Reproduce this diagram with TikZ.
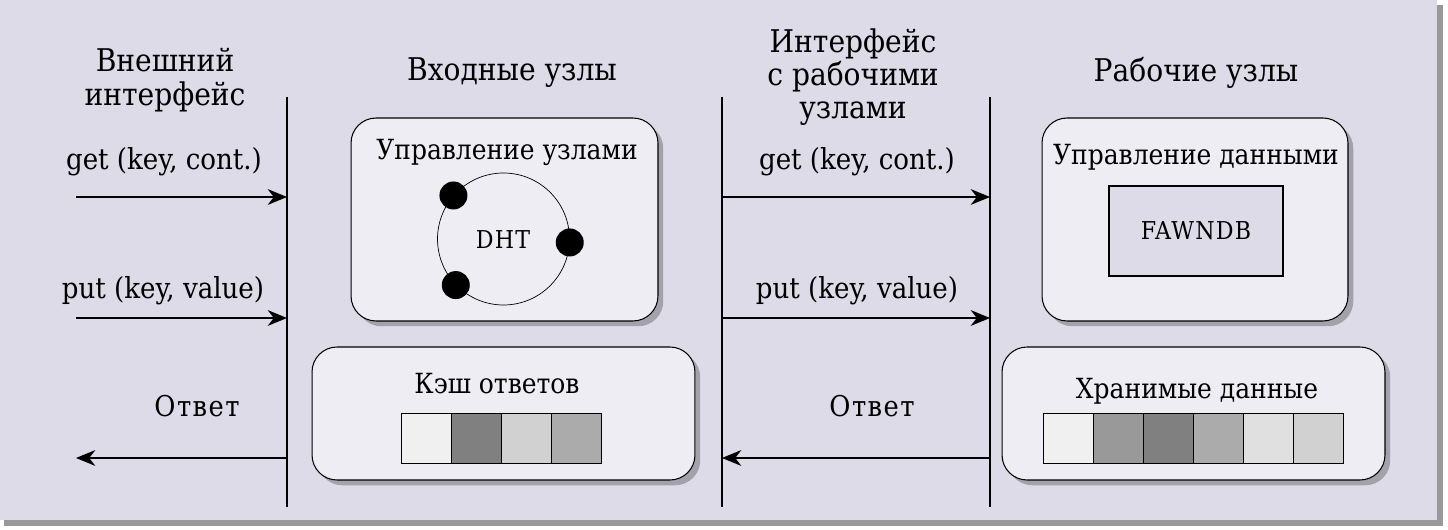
\documentclass[tikz,border=0pt]{standalone}
\usepackage{fontspec}
\setmainfont{DejaVu Serif Condensed}
\newfontfamily\slabmono{DejaVu Serif Condensed}[LetterSpace=5]
\usetikzlibrary{arrows.meta,shadows}
\definecolor{bgback}{HTML}{DDDBE8}
\definecolor{boxfill}{HTML}{EEEDF4}
\tikzset{
    >={Stealth[length=11pt,width=9pt,inset=3.5pt]},
    lifeline/.style={draw, line width=0.8pt},
    msg/.style={draw, line width=0.8pt, ->},
    head/.style={align=center, font={\fontsize{17.8pt}{19pt}\selectfont}},
    msgtext/.style={font={\fontsize{16.5pt}{18pt}\selectfont}},
    titletext/.style={font={\fontsize{15.8pt}{18pt}\selectfont}},
    monotext/.style={font={\slabmono\fontsize{16.3pt}{18pt}\selectfont}},
    systext/.style={font={\slabmono\fontsize{14pt}{16pt}\selectfont}},
    panel/.style={
        draw, line width=0.6pt,
        rounded corners=0.5cm,
        fill=boxfill,
        drop shadow={shadow xshift=3pt, shadow yshift=-3pt, opacity=0.4, fill=black!70}
    },
    cell/.style={draw, line width=0.8pt, minimum size=1cm, inner sep=0pt, anchor=north west},
    dot/.style={circle, fill=black, minimum size=0.56cm, inner sep=0pt},
}

\begin{document}
\begin{tikzpicture}[x=0.02cm, y=-0.02cm]
\useasboundingbox (0,0) rectangle (1448,530);
% frame
\fill[black!40] (4,5) rectangle (1443,526);
\fill[bgback] (0,0) rectangle (1437,520);

% headings
\node[head] (hext) at (165,80) {Внешний\\интерфейс};
\node[head] (hfront) at (512,73) {Входные узлы};
\node[head] (hback) at (853,77) {Интерфейс\\с рабочими\\узлами};
\node[head] (hwork) at (1196,73) {Рабочие узлы};

% lifelines
\coordinate (l1t) at (287,97);  \coordinate (l1b) at (287,507);
\coordinate (l2t) at (722,97);  \coordinate (l2b) at (722,507);
\coordinate (l3t) at (990,97);  \coordinate (l3b) at (990,507);
\draw[lifeline] (l1t) -- (l1b);
\draw[lifeline] (l2t) -- (l2b);
\draw[lifeline] (l3t) -- (l3b);

% messages
\coordinate (get1) at (76,197);
\coordinate (put1) at (76,318);
\coordinate (ans1) at (76,458);
\draw[msg] (get1) -- (get1 -| l1t);
\draw[msg] (put1) -- (put1 -| l1t);
\draw[msg] (ans1 -| l1t) -- (ans1);
\node[msgtext] (tget1) at (164,162) {get (key, cont.)};
\node[msgtext] (tput1) at (163,291) {put (key, value)};
\node[monotext] (tans1) at (197,406) {Ответ};

\draw[msg] (get1 -| l2t) -- (get1 -| l3t);
\draw[msg] (put1 -| l2t) -- (put1 -| l3t);
\draw[msg] (ans1 -| l3t) -- (ans1 -| l2t);
\node[msgtext] (tget2) at (857,162) {get (key, cont.)};
\node[msgtext] (tput2) at (857,291) {put (key, value)};
\node[monotext] (tans2) at (872,406) {Ответ};

% front-end nodes
\node[panel, minimum width=6.14cm, minimum height=4.06cm] (nodectl) at (504.5,219.5) {};
\node[titletext] (tnodectl) at (507,152) {Управление узлами};
\node[circle, draw, line width=0.4pt, minimum size=2.64cm] (ring) at (503.5,239) {};
\node[systext] (dht) at (503,240) {DHT};
\node[dot] (d1) at (ring.139) {};
\node[dot] (d2) at (ring.-3) {};
\node[dot] (d3) at (ring.-136) {};

\node[panel, minimum width=7.66cm, minimum height=2.66cm] (cache) at (503.5,413.5) {};
\node[titletext] (tcache) at (497,384) {Кэш ответов};
\foreach \g [count=\i] in {6,50,18,33}
    \node[cell, fill=black!\g] (cc\i) at ({401+50*(\i-1)},413) {};

% back-end nodes
\node[panel, minimum width=6.12cm, minimum height=4.06cm] (datactl) at (1195,219.5) {};
\node[titletext] (tdatactl) at (1196,157) {Управление данными};
\node[draw, line width=0.6pt, fill=bgback, minimum width=3.48cm, minimum height=1.8cm, systext] (fawn) at (1196,231) {FAWNDB};

\node[panel, minimum width=7.66cm, minimum height=2.66cm] (store) at (1193.5,413.5) {};
\node[titletext] (tstore) at (1197,391) {Хранимые данные};
\foreach \g [count=\i] in {6,40,50,33,12,18}
    \node[cell, fill=black!\g] (sc\i) at ({1043+50*(\i-1)},413) {};
\end{tikzpicture}
\end{document}
